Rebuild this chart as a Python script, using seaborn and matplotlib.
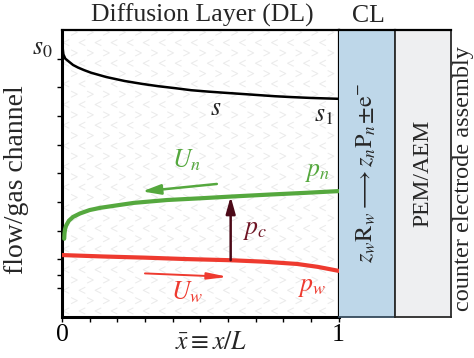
import numpy as np
import pandas as pd
import matplotlib
matplotlib.use("Agg")
import matplotlib.pyplot as plt
from matplotlib.path import Path
from matplotlib.markers import MarkerStyle
import seaborn as sns

# ---- curve data (dimensionless position x/L vs. normalised level) ----
s_x = [0.0, 0.002, 0.005, 0.012, 0.022, 0.04, 0.058, 0.08, 0.105, 0.16, 0.227,
       0.29, 0.348, 0.41, 0.467, 0.53, 0.589, 0.65, 0.71, 0.77, 0.83, 0.9, 1.0]
s_y = [0.973, 0.94, 0.915, 0.9, 0.892, 0.878, 0.869, 0.86, 0.851, 0.836, 0.822,
       0.812, 0.804, 0.797, 0.79, 0.785, 0.781, 0.777, 0.773, 0.769, 0.766, 0.763, 0.76]

pn_x = [0.008, 0.009, 0.011, 0.015, 0.025, 0.04, 0.065, 0.1, 0.14, 0.21, 0.26,
        0.38, 0.5, 0.61, 0.75, 0.88, 1.0]
pn_y = [0.272, 0.29, 0.305, 0.318, 0.335, 0.348, 0.36, 0.372, 0.38, 0.39, 0.397,
        0.407, 0.413, 0.419, 0.426, 0.432, 0.438]

pw_x = [0.0, 0.15, 0.3, 0.45, 0.609, 0.728, 0.85, 0.924, 1.0]
pw_y = [0.215, 0.21, 0.206, 0.201, 0.197, 0.192, 0.184, 0.174, 0.16]

# capillary pressure arrow between the two phase pressures
pc_x, pc_low, pc_high = 0.61, 0.197, 0.419
# flux arrows (start, end)
un_start, un_end = (0.56, 0.463), (0.29, 0.437)
uw_start, uw_end = (0.30, 0.151), (0.60, 0.139)

x_ticks = [round(0.1 * i, 1) for i in range(11)]
x_ticklabels = ["0" if t == 0 else "1" if t == 1 else "" for t in x_ticks]
y_ticks = [0.1, 0.145, 0.2, 0.3, 0.4, 0.5, 0.6, 0.7, 0.8, 0.9]

GREEN = "#55a83e"
RED = "#ee3a2f"
MAROON = "#4c0a18"
PC_TEXT = "#6e1424"

sns.set_theme(style="white")
plt.rcParams["font.family"] = ["Liberation Serif", "DejaVu Serif"]
plt.rcParams["mathtext.fontset"] = "stix"

W, H = 474, 358
fig = plt.figure(figsize=(W / 100, H / 100), dpi=100)
fig.patch.set_facecolor("white")

left, right, bottom, top = 62, 338.5, 316.7, 30
ax = fig.add_axes([left / W, 1 - bottom / H, (right - left) / W, (bottom - top) / H])
ax.set_facecolor("white")
ax.set_xlim(0, 1)
ax.set_ylim(0, 1)

# faint chevron texture of the porous layer
chev_l = MarkerStyle(Path([(0.5, 0.5), (-0.5, 0.0), (0.5, -0.5)],
                          [Path.MOVETO, Path.LINETO, Path.LINETO]))
chev_r = MarkerStyle(Path([(-0.5, 0.5), (0.5, 0.0), (-0.5, -0.5)],
                          [Path.MOVETO, Path.LINETO, Path.LINETO]))
gx = np.arange(0.015, 1.0, 0.058)
gy = np.arange(0.02, 1.0, 0.036)
for j, yy in enumerate(gy):
    off = 0.0 if j % 2 == 0 else 0.029
    xs = gx + off
    xs = xs[xs < 0.99]
    ax.scatter(xs, np.full_like(xs, yy), marker=chev_l if j % 2 == 0 else chev_r,
               s=20, facecolors="none", edgecolors="#ebebeb", linewidths=0.75, zorder=0)

s_df = pd.DataFrame({"x": s_x, "y": s_y})
pn_df = pd.DataFrame({"x": pn_x, "y": pn_y})
pw_df = pd.DataFrame({"x": pw_x, "y": pw_y})
sns.lineplot(data=s_df, x="x", y="y", ax=ax, color="black", lw=1.8, sort=False, zorder=3)
sns.lineplot(data=pn_df, x="x", y="y", ax=ax, color=GREEN, lw=3.0, sort=False, zorder=3)
sns.lineplot(data=pw_df, x="x", y="y", ax=ax, color=RED, lw=3.0, sort=False, zorder=3)

ax.annotate("", xy=(pc_x, pc_high), xytext=(pc_x, pc_low),
            arrowprops=dict(arrowstyle="-|>,head_length=0.5,head_width=0.14",
                            mutation_scale=20, color=MAROON, lw=1.8,
                            shrinkA=0, shrinkB=0), zorder=4)
ax.annotate("", xy=un_end, xytext=un_start,
            arrowprops=dict(arrowstyle="-|>,head_length=0.55,head_width=0.15",
                            mutation_scale=20, color=GREEN, lw=1.8,
                            shrinkA=0, shrinkB=0), zorder=4)
ax.annotate("", xy=uw_end, xytext=uw_start,
            arrowprops=dict(arrowstyle="-|>,head_length=0.6,head_width=0.1",
                            mutation_scale=20, color=RED, lw=1.4,
                            shrinkA=0, shrinkB=0), zorder=4)

fs = 18.5
ax.text(0.555, 0.725, r"$s$", fontsize=fs, ha="center", va="center")
ax.text(0.945, 0.70, r"$s_1$", fontsize=fs, ha="center", va="center")
ax.text(-0.035, 0.935, r"$s_0$", fontsize=fs, ha="right", va="center", clip_on=False)
ax.text(0.45, 0.545, r"$U_n$", fontsize=fs, ha="center", va="center", color=GREEN)
ax.text(0.453, 0.085, r"$U_w$", fontsize=fs, ha="center", va="center", color=RED)
ax.text(0.925, 0.50, r"$p_n$", fontsize=fs, ha="center", va="center", color=GREEN)
ax.text(0.905, 0.10, r"$p_w$", fontsize=fs, ha="center", va="center", color=RED)
ax.text(0.70, 0.30, r"$p_c$", fontsize=fs, ha="center", va="center", color=PC_TEXT)

ax.set_xticks(x_ticks)
ax.set_xticklabels(x_ticklabels, fontsize=fs)
ax.set_yticks(y_ticks)
ax.set_yticklabels([])
ax.tick_params(axis="both", direction="out", length=3.5, width=1.0, colors="black",
               bottom=True, left=True, pad=1.5)
ax.set_xlabel("")
ax.set_ylabel("")
for side, lw in [("left", 2.2), ("bottom", 2.2), ("top", 1.6), ("right", 1.6)]:
    ax.spines[side].set_visible(True)
    ax.spines[side].set_color("black")
    ax.spines[side].set_linewidth(lw)

# catalyst layer and membrane panels
cl_l, cl_r, pem_r = 338.5, 395, 451
ax_cl = fig.add_axes([cl_l / W, 1 - bottom / H, (cl_r - cl_l) / W, (bottom - top) / H])
ax_cl.set_facecolor("#bed7e9")
ax_pem = fig.add_axes([cl_r / W, 1 - bottom / H, (pem_r - cl_r) / W, (bottom - top) / H])
ax_pem.set_facecolor("#eeeff1")
for a, ec in [(ax_cl, "#34495a"), (ax_pem, "#2a2a2a")]:
    a.set_xticks([])
    a.set_yticks([])
    for sp in a.spines.values():
        sp.set_visible(True)
        sp.set_color(ec)
        sp.set_linewidth(1.3)
ax_cl.spines["left"].set_visible(False)
ax_cl.spines["top"].set_color("black")
ax_cl.spines["top"].set_linewidth(1.6)
ax_pem.spines["top"].set_color("black")
ax_pem.spines["top"].set_linewidth(1.6)

ax_cl.text(0.5, 0.5, r"$z_w\mathrm{R}_w \longrightarrow z_n\mathrm{P}_n\!\pm\!\mathrm{e}^{-}$",
           rotation=90, fontsize=17.5, ha="center", va="center", transform=ax_cl.transAxes)
ax_pem.text(0.5, 0.5, "PEM/AEM", rotation=90, fontsize=17, ha="center", va="center",
            transform=ax_pem.transAxes)

fig.text(202 / W, 1 - 15 / H, "Diffusion Layer (DL)", fontsize=fs, ha="center", va="center")
fig.text(368 / W, 1 - 16 / H, "CL", fontsize=fs, ha="center", va="center")
fig.text(17 / W, 1 - 180 / H, "flow/gas channel", fontsize=20, rotation=90,
         ha="center", va="center")
fig.text(464 / W, 1 - 179 / H, "counter electrode assembly", fontsize=17.5, rotation=90,
         ha="center", va="center")
fig.text(211 / W, 1 - 343 / H, r"$\bar{x} \equiv x/L$", fontsize=fs, ha="center", va="center")

fig.savefig("out.png", dpi=100)
